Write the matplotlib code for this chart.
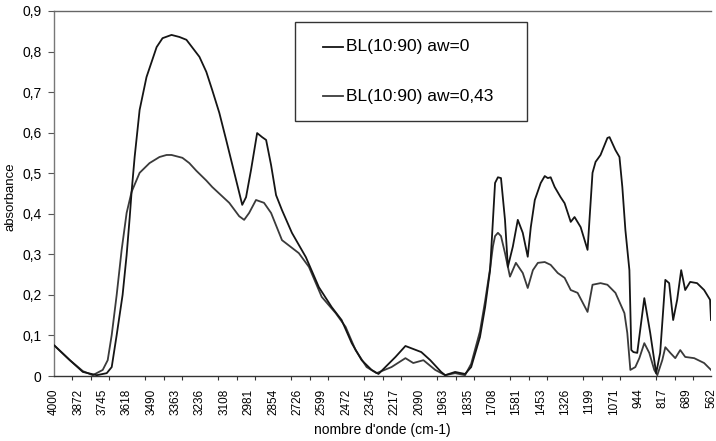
import numpy as np
import matplotlib
matplotlib.use("Agg")
import matplotlib.pyplot as plt
from matplotlib.patches import Rectangle
from matplotlib.lines import Line2D
from matplotlib.ticker import FixedLocator

plt.rcParams['font.family'] = ['Liberation Sans', 'DejaVu Sans']

# ---------------- data ----------------
x_tick_labels = ["4000", "3872", "3745", "3618", "3490", "3363", "3236", "3108",
                 "2981", "2854", "2726", "2599", "2472", "2345", "2217", "2090",
                 "1963", "1835", "1708", "1581", "1453", "1326", "1199", "1071",
                 "944", "817", "689", "562"]
y_tick_values = [0.0, 0.1, 0.2, 0.3, 0.4, 0.5, 0.6, 0.7, 0.8, 0.9]
y_tick_labels = ["0", "0,1", "0,2", "0,3", "0,4", "0,5", "0,6", "0,7", "0,8", "0,9"]

series_names = ["BL(10:90) aw=0", "BL(10:90) aw=0,43"]

wn_aw0 = [4000, 3917, 3849, 3776, 3724, 3698, 3672, 3641, 3620, 3604, 3594, 3578,
          3552, 3516, 3463, 3432, 3385, 3344, 3307, 3239, 3203, 3172, 3135, 3099,
          3047, 3015, 2995, 2969,
          2937, 2911, 2890, 2864, 2838, 2807, 2755, 2682, 2614, 2547, 2495, 2442,
          2390, 2338, 2302, 2213, 2161, 2078, 2031, 1974, 1953, 1901, 1849, 1817,
          1771, 1744, 1718, 1703, 1692, 1677, 1661, 1640, 1625, 1599, 1573, 1547,
          1521, 1505, 1484, 1453, 1432, 1416, 1401, 1380, 1349, 1328, 1296, 1276,
          1244, 1208, 1182, 1166, 1140, 1104, 1093, 1062, 1041, 1026, 1010, 989,
          979, 968, 948, 911, 880, 849, 828, 801, 781, 760, 739, 718,
          697, 671, 635, 598, 567, 562]
abs_aw0 = [0.076, 0.039, 0.010, 0.002, 0.007, 0.022, 0.101, 0.200, 0.298, 0.390, 0.454, 0.540,
           0.656, 0.737, 0.811, 0.833, 0.841, 0.836, 0.829, 0.787, 0.750, 0.705, 0.649, 0.582,
           0.483, 0.422, 0.441, 0.508,
           0.599, 0.589, 0.582, 0.520, 0.446, 0.409, 0.353, 0.293, 0.219, 0.170, 0.138, 0.081,
           0.039, 0.015, 0.005, 0.047, 0.074, 0.059, 0.039, 0.010, 0.002, 0.010, 0.005, 0.022,
           0.096, 0.170, 0.261, 0.385, 0.476, 0.490, 0.488, 0.385, 0.269, 0.319, 0.385, 0.353,
           0.294, 0.367, 0.434, 0.476, 0.493, 0.488, 0.490, 0.466, 0.441, 0.426, 0.380, 0.392,
           0.367, 0.311, 0.501, 0.528, 0.545, 0.587, 0.589, 0.557, 0.540, 0.466, 0.360, 0.261,
           0.064, 0.059, 0.057, 0.192, 0.106, 0.007, 0.057, 0.237, 0.229, 0.138, 0.188, 0.261,
           0.212, 0.232, 0.229, 0.212, 0.188, 0.138]

wn_aw043 = [4000, 3917, 3849, 3797, 3745, 3719, 3698, 3672, 3646, 3620, 3594, 3552,
            3500, 3448, 3411, 3385, 3328, 3292, 3255, 3203, 3172, 3083, 3031, 3005, 2979, 2943, 2901,
            2864, 2807, 2719, 2666, 2599, 2526, 2474, 2422, 2364, 2312, 2234, 2161,
            2120, 2067, 2005, 1953, 1901, 1849, 1817, 1771, 1744, 1718, 1703, 1692,
            1677, 1661, 1640, 1614, 1583, 1547, 1521, 1494, 1468, 1432, 1401, 1364,
            1328, 1296, 1260, 1208, 1182, 1140, 1104, 1062, 1015, 1000, 984, 958,
            937, 911, 885, 859, 843, 817, 801, 775, 749, 723, 697, 650,
            598, 562]
abs_aw043 = [0.076, 0.039, 0.012, 0.002, 0.015, 0.039, 0.101, 0.200, 0.311, 0.402, 0.454, 0.501,
             0.525, 0.540, 0.545, 0.545, 0.538, 0.525, 0.506, 0.482, 0.466, 0.427, 0.394, 0.385,
             0.402, 0.434, 0.427,
             0.402, 0.335, 0.303, 0.269, 0.195, 0.155, 0.121, 0.064, 0.022, 0.007, 0.022, 0.044,
             0.032, 0.039, 0.015, 0.002, 0.007, 0.002, 0.030, 0.110, 0.185, 0.265, 0.320, 0.345,
             0.353, 0.345, 0.303, 0.245, 0.279, 0.254, 0.217, 0.261, 0.279, 0.281, 0.274, 0.254,
             0.242, 0.212, 0.205, 0.158, 0.225, 0.229, 0.225, 0.205, 0.155, 0.106, 0.015, 0.022,
             0.044, 0.081, 0.057, 0.015, 0.002, 0.039, 0.071, 0.057, 0.044, 0.064, 0.047, 0.044,
             0.032, 0.015]

# ---------------- figure ----------------
W, H = 716, 441
fig = plt.figure(figsize=(W / 100, H / 100), dpi=100)
ax = fig.add_axes([54 / W, 1 - 376 / H, 657 / W, 365 / H])

line_colors = ["#151515", "#3a3a3a"]
ax.plot(wn_aw0, abs_aw0, color=line_colors[0], lw=1.3, label=series_names[0], zorder=3)
ax.plot(wn_aw043, abs_aw043, color=line_colors[1], lw=1.3, label=series_names[1], zorder=2)

ax.set_xlim(4000, 562)
ax.set_ylim(0, 0.9)

# x ticks: labels without marks, separate marks as minor ticks
x_tick_pos = [float(s) for s in x_tick_labels]
ax.set_xticks(x_tick_pos)
ax.set_xticklabels(x_tick_labels, rotation=90, fontsize=8.5)
ax.tick_params(axis='x', which='major', length=0, pad=9)
ax.xaxis.set_minor_locator(FixedLocator(np.linspace(4000, 562, 37)))
ax.tick_params(axis='x', which='minor', length=3, width=0.8, direction='out', color='#333333')

ax.set_yticks(y_tick_values)
ax.set_yticklabels(y_tick_labels, fontsize=10)
ax.tick_params(axis='y', length=4, width=0.8, direction='out', color='#555555', pad=5)

for side in ['left', 'bottom', 'top']:
    ax.spines[side].set_linewidth(1.0)
ax.spines['left'].set_color('#777777')
ax.spines['top'].set_color('#666666')
ax.spines['bottom'].set_color('#333333')
ax.spines['right'].set_visible(False)

ax.set_xlabel("nombre d'onde (cm-1)", fontsize=10, labelpad=6)
ax.set_ylabel("absorbance", fontsize=9.5)
ax.yaxis.set_label_coords(-(54 - 17) / 657, 0.49)

# ---------------- legend (drawn as box with handles) ----------------
fig.add_artist(Rectangle((295 / W, 1 - 121 / H), 232 / W, 99 / H, transform=fig.transFigure,
                         facecolor='white', edgecolor='#333333', lw=1.0, zorder=5))
for i, (name, c) in enumerate(zip(series_names, line_colors)):
    yy = 1 - (47 + 49 * i) / H
    fig.add_artist(Line2D([323 / W, 343 / W], [yy, yy], transform=fig.transFigure,
                          color=c, lw=1.3, zorder=6))
    fig.text(346 / W, yy, name, fontsize=12.5, va='center', ha='left', zorder=6)

fig.savefig("out.png", dpi=100)
